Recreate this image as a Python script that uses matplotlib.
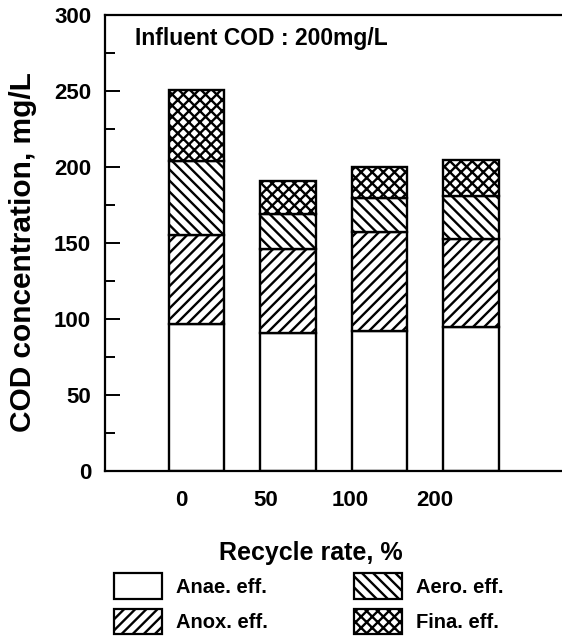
import matplotlib.pyplot as plt
import numpy as np
from matplotlib.patches import Patch

plt.rcParams['font.family'] = ['Liberation Sans', 'DejaVu Sans']
plt.rcParams['font.weight'] = 'bold'
plt.rcParams['hatch.linewidth'] = 1.7

# recycle rate categories
rates = ['0', '50', '100', '200']

# COD concentration contributions per stage (mg/L), stacked
anae = [97, 91, 92, 95]
anox = [58, 55, 65, 58]
aero = [49, 23, 23, 28]
fina = [47, 22, 20, 24]

labels = ['Anae. eff.', 'Anox. eff.', 'Aero. eff.', 'Fina. eff.']
hatches = ['', '///', '\\\\\\', 'xxx']

fig = plt.figure(figsize=(5.62, 6.38), dpi=100)
ax = fig.add_axes([0.187, 0.262, 0.83, 0.714])

x = np.arange(len(rates))
bottom = np.zeros(len(rates))
for vals, h in zip([anae, anox, aero, fina], hatches):
    ax.bar(x, vals, 0.61, bottom=bottom, color='white', edgecolor='black',
           hatch=h, linewidth=1.7)
    bottom += np.array(vals)

ax.set_xlim(-1, 4.1)
ax.set_ylim(0, 300)
# labels in the scanned original sit slightly left of the bars
ax.set_xticks(x * 0.925 - 0.165)
ax.set_xticklabels(rates)
ax.set_yticks(np.arange(0, 301, 50))
ax.set_yticks(np.arange(25, 300, 50), minor=True)
ax.tick_params(axis='y', which='major', direction='in', length=11, width=1.4, labelsize=16, pad=10)
ax.tick_params(axis='y', which='minor', direction='in', length=7, width=1.4)
ax.tick_params(axis='x', length=0, labelsize=16, pad=14)
ax.spines['right'].set_visible(False)
for s in ['left', 'top', 'bottom']:
    ax.spines[s].set_linewidth(1.6)

ax.set_ylabel('COD concentration, mg/L', fontsize=21.5, fontweight='bold')
ax.yaxis.set_label_coords(-0.146, 0.48)
ax.set_xlabel('Recycle rate, %', fontsize=18, fontweight='bold')
ax.xaxis.set_label_coords(0.44, -0.155)
ax.text(0.065, 0.948, 'Influent COD : 200mg/L', transform=ax.transAxes,
        fontsize=16.5, fontweight='bold', va='center')

handles = [Patch(facecolor='white', edgecolor='black', hatch=h, linewidth=1.6)
           for h in hatches]
fig.legend(handles, labels, loc='lower left', bbox_to_anchor=(0.195, 0.0), ncol=2,
           frameon=False, prop={'size': 14.5, 'weight': 'bold'},
           handlelength=2.4, handleheight=1.55, borderpad=0.2, borderaxespad=0,
           columnspacing=4.25, handletextpad=0.7, labelspacing=0.5)

fig.savefig('out.png', dpi=100)
